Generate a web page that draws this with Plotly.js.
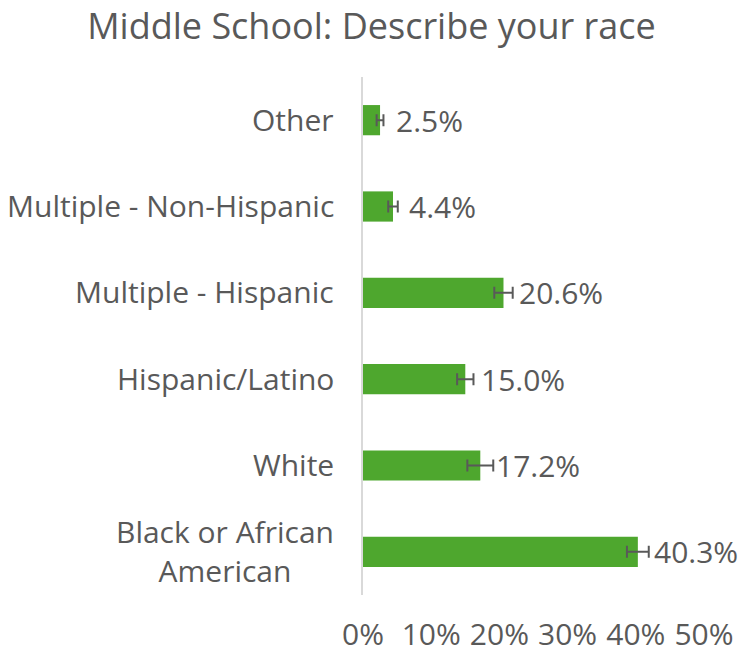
<!DOCTYPE html>
<html>
<head>
<meta charset="utf-8">
<script src="https://cdn.plot.ly/plotly-3.0.1.min.js"></script>
<style>html,body{margin:0;padding:0;background:#fff;}#chart{width:743px;height:656px;}</style>
</head>
<body>
<div id="chart"></div>
<script>
// Data (bottom to top)
const categories = ["Black or African American", "White", "Hispanic/Latino", "Multiple - Hispanic", "Multiple - Non-Hispanic", "Other"];
const categoryLabels = ["Black or African<br>American", "White", "Hispanic/Latino", "Multiple - Hispanic", "Multiple - Non-Hispanic", "Other"];
const percentValues = [40.3, 17.2, 15.0, 20.6, 4.4, 2.5];
const errorValues = [1.6, 1.9, 1.2, 1.35, 0.7, 0.5];
const xTickValues = [0, 10, 20, 30, 40, 50];
const xTickLabels = ["0%", "10%", "20%", "30%", "40%", "50%"];

const FONT = "'Open Sans', sans-serif";
const TEXT = "#595959";

const trace = {
  type: "bar",
  orientation: "h",
  y: categories,
  x: percentValues,
  width: 0.35,
  marker: {color: "#4EA72E"},
  error_x: {type: "data", array: errorValues, visible: true, color: "#595959", thickness: 2, width: 6},
  hoverinfo: "none"
};

const annotations = [];
categories.forEach((c, i) => {
  annotations.push({
    x: percentValues[i], y: c, xref: "x", yref: "y",
    text: percentValues[i].toFixed(1) + "%",
    showarrow: false, xanchor: "left", xshift: 14,
    font: {family: FONT, size: 30, color: TEXT}
  });
  annotations.push({
    x: 0, y: c, xref: "paper", yref: "y",
    text: categoryLabels[i],
    showarrow: false, xanchor: "right", align: "center", xshift: -27, yshift: 1,
    font: {family: FONT, size: 30, color: TEXT}
  });
});

const layout = {
  width: 743, height: 656,
  margin: {l: 363, r: 38.5, t: 77, b: 61},
  paper_bgcolor: "#fff", plot_bgcolor: "#fff",
  showlegend: false,
  title: {text: "Middle School: Describe your race", x: 0.5, xanchor: "center", y: 0.960, yanchor: "middle", font: {family: FONT, size: 36, color: TEXT}},
  xaxis: {range: [0, 50], tickvals: xTickValues, ticktext: xTickLabels, showgrid: false, zeroline: false, showline: false, ticks: "", ticklabelstandoff: 19, tickfont: {family: FONT, size: 30, color: TEXT}, fixedrange: true},
  yaxis: {type: "category", categoryorder: "array", categoryarray: categories, showticklabels: false, showgrid: false, zeroline: false, showline: true, linecolor: "#D9D9D9", linewidth: 2, ticks: "", range: [-0.5, 5.5], fixedrange: true},
  annotations: annotations,
  font: {family: FONT, color: TEXT}
};

Plotly.newPlot("chart", [trace], layout, {displayModeBar: false, staticPlot: true});
</script>
</body>
</html>
